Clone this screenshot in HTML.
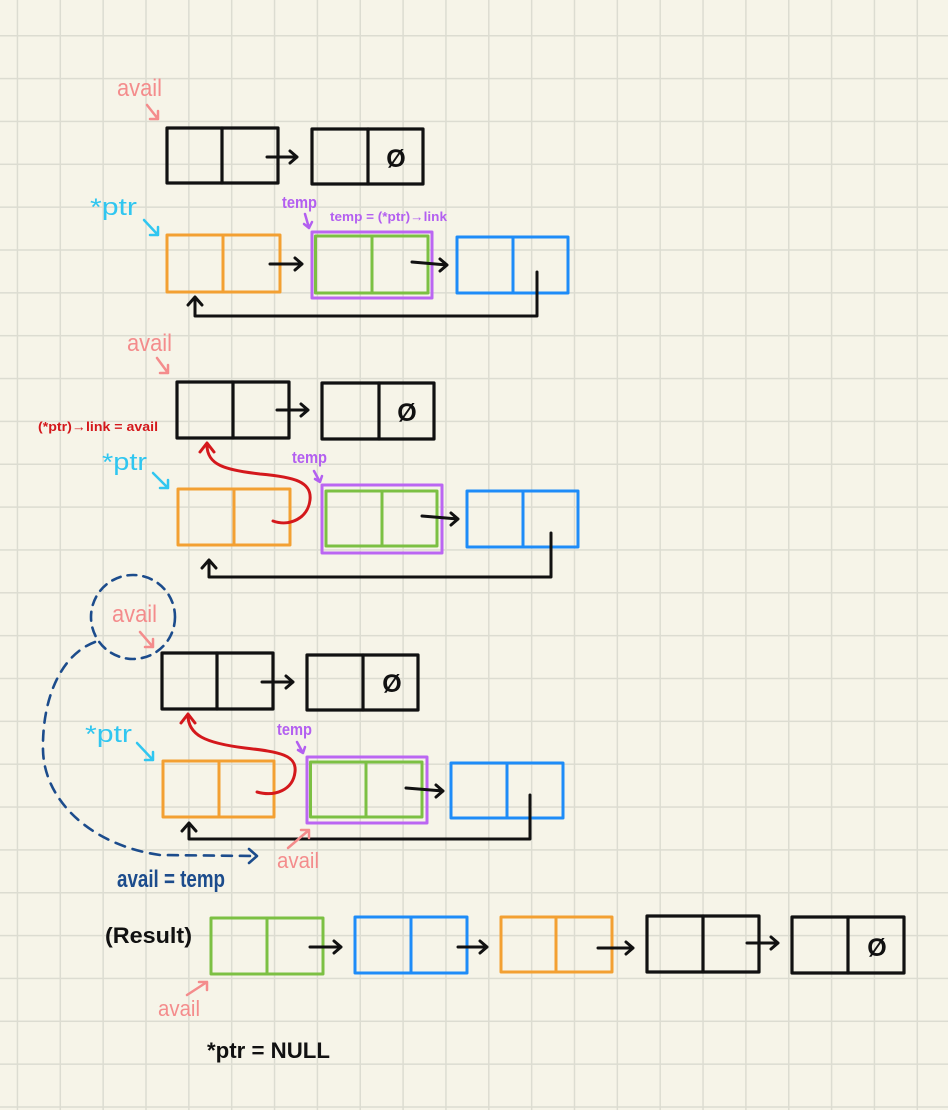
<!DOCTYPE html>
<html><head><meta charset="utf-8">
<style>
html,body{margin:0;padding:0;background:#f6f4e8;}
svg{display:block;}
text{font-family:"Liberation Sans",sans-serif;}
</style></head>
<body>
<svg width="948" height="1110" viewBox="0 0 948 1110" xmlns="http://www.w3.org/2000/svg">
<defs>
<pattern id="g" x="16.7" y="35" width="42.85" height="42.85" patternUnits="userSpaceOnUse">
<path d="M0.75,0 V42.85 M0,0.75 H42.85" stroke="#dcdcd1" stroke-width="1.5" fill="none"/>
</pattern>
</defs>
<rect width="948" height="1110" fill="#f6f4e8"/>
<rect width="948" height="1110" fill="url(#g)"/>

<g fill="none" stroke-linecap="round" stroke-linejoin="round">
<!-- ===== Section 1 ===== -->
<rect x="167" y="128" width="111" height="55" stroke="#111" stroke-width="3.2"/>
<line x1="222" y1="128" x2="222" y2="183" stroke="#111" stroke-width="3.2"/>
<rect x="312" y="129" width="111" height="55" stroke="#111" stroke-width="3.2"/>
<line x1="368" y1="129" x2="368" y2="184" stroke="#111" stroke-width="3.2"/>
<path d="M267,157 H297 M290,151 L297,157 L290,163" stroke="#111" stroke-width="3"/>

<rect x="167" y="235" width="113" height="57" stroke="#f3a032" stroke-width="3"/>
<line x1="223" y1="235" x2="223" y2="292" stroke="#f3a032" stroke-width="3"/>
<path d="M270,264 H302 M295,258 L302,264 L295,270" stroke="#111" stroke-width="3"/>
<rect x="312" y="232" width="120" height="66" stroke="#bb66f2" stroke-width="3"/>
<rect x="315.5" y="236" width="112.5" height="57" stroke="#7cc043" stroke-width="3"/>
<line x1="372" y1="236" x2="372" y2="293" stroke="#7cc043" stroke-width="3"/>
<path d="M412,262 L447,265 M440,259 L447,265 L440,271" stroke="#111" stroke-width="3"/>
<rect x="457" y="237" width="111" height="56" stroke="#1e8cf8" stroke-width="3"/>
<line x1="513" y1="237" x2="513" y2="293" stroke="#1e8cf8" stroke-width="3"/>
<path d="M537,272 V316 H195 V298 M188,305 L195,297 L202,305" stroke="#111" stroke-width="3"/>

<path d="M147,105 L158,119 M150,119 L158,119 L158,111" stroke="#f48c8c" stroke-width="2.5"/>
<path d="M144,220 L158,235 M150,235 L158,235 L158,227" stroke="#30c6f0" stroke-width="2.5"/>
<path d="M305,214 L309,228 M304,224 L309,228 L312,222" stroke="#b35ff0" stroke-width="2.5"/>

<!-- ===== Section 2 ===== -->
<rect x="177" y="382" width="112" height="56" stroke="#111" stroke-width="3.2"/>
<line x1="233" y1="382" x2="233" y2="438" stroke="#111" stroke-width="3.2"/>
<rect x="322" y="383" width="112" height="56" stroke="#111" stroke-width="3.2"/>
<line x1="379" y1="383" x2="379" y2="439" stroke="#111" stroke-width="3.2"/>
<path d="M277,410 H308 M301,404 L308,410 L301,416" stroke="#111" stroke-width="3"/>

<rect x="178" y="489" width="112" height="56" stroke="#f3a032" stroke-width="3"/>
<line x1="234" y1="489" x2="234" y2="545" stroke="#f3a032" stroke-width="3"/>
<rect x="322" y="485" width="120" height="68" stroke="#bb66f2" stroke-width="3"/>
<rect x="326" y="491" width="111" height="55" stroke="#7cc043" stroke-width="3"/>
<line x1="382" y1="491" x2="382" y2="546" stroke="#7cc043" stroke-width="3"/>
<path d="M422,516 L458,519 M451,513 L458,519 L451,525" stroke="#111" stroke-width="3"/>
<rect x="467" y="491" width="111" height="56" stroke="#1e8cf8" stroke-width="3"/>
<line x1="523" y1="491" x2="523" y2="547" stroke="#1e8cf8" stroke-width="3"/>
<path d="M551,533 V577 H209 V561 M202,568 L209,560 L216,568" stroke="#111" stroke-width="3"/>

<path d="M273,521 C290,527 308,518 310,500 C312,482 295,477 260,474 C225,470 207,465 207,445 M200,452 L207,443 L214,452" stroke="#d4181c" stroke-width="3"/>

<path d="M157,358 L168,373 M160,373 L168,373 L168,365" stroke="#f48c8c" stroke-width="2.5"/>
<path d="M153,473 L168,488 M160,488 L168,488 L168,480" stroke="#30c6f0" stroke-width="2.5"/>
<path d="M314,471 L320,482 M315,479 L320,482 L322,476" stroke="#b35ff0" stroke-width="2.5"/>

<!-- ===== Section 3 ===== -->
<circle cx="133" cy="617" r="42" stroke="#1c4c8c" stroke-width="2.6" stroke-dasharray="9 7"/>
<path d="M95,642 C60,655 42,700 43,750 C44,800 90,845 160,855 L254,856" stroke="#1c4c8c" stroke-width="2.6" stroke-dasharray="10 8"/>
<path d="M249,849 L257,856 L249,863" stroke="#1c4c8c" stroke-width="2.6"/>

<rect x="162" y="653" width="111" height="56" stroke="#111" stroke-width="3.2"/>
<line x1="217" y1="653" x2="217" y2="709" stroke="#111" stroke-width="3.2"/>
<rect x="307" y="655" width="111" height="55" stroke="#111" stroke-width="3.2"/>
<line x1="363" y1="655" x2="363" y2="710" stroke="#111" stroke-width="3.2"/>
<path d="M262,682 H293 M286,676 L293,682 L286,688" stroke="#111" stroke-width="3"/>

<rect x="163" y="761" width="111" height="56" stroke="#f3a032" stroke-width="3"/>
<line x1="219" y1="761" x2="219" y2="817" stroke="#f3a032" stroke-width="3"/>
<rect x="307" y="757" width="120" height="66" stroke="#bb66f2" stroke-width="3"/>
<rect x="310.5" y="762" width="111.5" height="55" stroke="#7cc043" stroke-width="3"/>
<line x1="366" y1="762" x2="366" y2="817" stroke="#7cc043" stroke-width="3"/>
<path d="M406,788 L443,791 M436,785 L443,791 L436,797" stroke="#111" stroke-width="3"/>
<rect x="451" y="763" width="112" height="55" stroke="#1e8cf8" stroke-width="3"/>
<line x1="507" y1="763" x2="507" y2="818" stroke="#1e8cf8" stroke-width="3"/>
<path d="M530,795 V839 H189 V824 M182,831 L189,823 L196,831" stroke="#111" stroke-width="3"/>

<path d="M257,792 C275,797 293,790 295,772 C297,755 280,752 245,748 C205,743 188,735 188,715 M181,723 L188,714 L195,723" stroke="#d4181c" stroke-width="3"/>

<path d="M140,632 L153,647 M145,647 L153,647 L153,639" stroke="#f48c8c" stroke-width="2.5"/>
<path d="M137,743 L153,760 M145,760 L153,760 L153,752" stroke="#30c6f0" stroke-width="2.5"/>
<path d="M297,742 L303,753 M298,750 L303,753 L305,747" stroke="#b35ff0" stroke-width="2.5"/>
<path d="M288,848 L309,830 M301,830 L309,830 L309,838" stroke="#f48c8c" stroke-width="2.5"/>

<!-- ===== Result ===== -->
<rect x="211" y="918" width="112" height="56" stroke="#7cc043" stroke-width="3"/>
<line x1="267" y1="918" x2="267" y2="974" stroke="#7cc043" stroke-width="3"/>
<path d="M310,947 H341 M334,941 L341,947 L334,953" stroke="#111" stroke-width="3"/>
<rect x="355" y="917" width="112" height="56" stroke="#1e8cf8" stroke-width="3"/>
<line x1="411" y1="917" x2="411" y2="973" stroke="#1e8cf8" stroke-width="3"/>
<path d="M458,947 H487 M480,941 L487,947 L480,953" stroke="#111" stroke-width="3"/>
<rect x="501" y="917" width="111" height="55" stroke="#f3a032" stroke-width="3"/>
<line x1="556" y1="917" x2="556" y2="972" stroke="#f3a032" stroke-width="3"/>
<path d="M598,948 H633 M626,942 L633,948 L626,954" stroke="#111" stroke-width="3"/>
<rect x="647" y="916" width="112" height="56" stroke="#111" stroke-width="3.2"/>
<line x1="703" y1="916" x2="703" y2="972" stroke="#111" stroke-width="3.2"/>
<path d="M747,943 H778 M771,937 L778,943 L771,949" stroke="#111" stroke-width="3"/>
<rect x="792" y="917" width="112" height="56" stroke="#111" stroke-width="3.2"/>
<line x1="848" y1="917" x2="848" y2="973" stroke="#111" stroke-width="3.2"/>

<path d="M187,995 L207,982 M199,982 L207,982 L207,990" stroke="#f48c8c" stroke-width="2.5"/>
</g>

<!-- null symbols -->
<g font-family="Liberation Sans, sans-serif" font-weight="bold" font-size="25" fill="#111" text-anchor="middle">
<text x="396" y="167">Ø</text>
<text x="407" y="421">Ø</text>
<text x="392" y="692">Ø</text>
<text x="877" y="956">Ø</text>
</g>

<!-- labels -->
<g font-family="Liberation Sans, sans-serif" lengthAdjust="spacingAndGlyphs">
<text x="117" y="96" font-size="24" fill="#f48c8c" textLength="45" lengthAdjust="spacingAndGlyphs">avail</text>
<text x="90" y="215" font-size="24" fill="#30c6f0" textLength="47" lengthAdjust="spacingAndGlyphs">*ptr</text>
<text x="282" y="208" font-size="17" font-weight="bold" fill="#b35ff0" textLength="35" lengthAdjust="spacingAndGlyphs">temp</text>
<text x="330" y="221" font-size="13" font-weight="bold" fill="#b35ff0" textLength="117" lengthAdjust="spacingAndGlyphs">temp = (*ptr)→link</text>

<text x="127" y="351" font-size="24" fill="#f48c8c" textLength="45" lengthAdjust="spacingAndGlyphs">avail</text>
<text x="38" y="431" font-size="13" font-weight="bold" fill="#d4181c" textLength="120" lengthAdjust="spacingAndGlyphs">(*ptr)→link = avail</text>
<text x="102" y="470" font-size="24" fill="#30c6f0" textLength="45" lengthAdjust="spacingAndGlyphs">*ptr</text>
<text x="292" y="463" font-size="17" font-weight="bold" fill="#b35ff0" textLength="35" lengthAdjust="spacingAndGlyphs">temp</text>

<text x="112" y="622" font-size="24" fill="#f48c8c" textLength="45" lengthAdjust="spacingAndGlyphs">avail</text>
<text x="85" y="742" font-size="24" fill="#30c6f0" textLength="47" lengthAdjust="spacingAndGlyphs">*ptr</text>
<text x="277" y="735" font-size="17" font-weight="bold" fill="#b35ff0" textLength="35" lengthAdjust="spacingAndGlyphs">temp</text>
<text x="277" y="868" font-size="22" fill="#f48c8c" textLength="42" lengthAdjust="spacingAndGlyphs">avail</text>
<text x="117" y="887" font-size="24" font-weight="bold" fill="#1c4c8c" textLength="108" lengthAdjust="spacingAndGlyphs">avail = temp</text>

<text x="105" y="943" font-size="22" font-weight="bold" fill="#111" textLength="87" lengthAdjust="spacingAndGlyphs">(Result)</text>
<text x="158" y="1016" font-size="22" fill="#f48c8c" textLength="42" lengthAdjust="spacingAndGlyphs">avail</text>
<text x="207" y="1058" font-size="22" font-weight="bold" fill="#111" textLength="123" lengthAdjust="spacingAndGlyphs">*ptr = NULL</text>
</g>
</svg>
</body></html>
